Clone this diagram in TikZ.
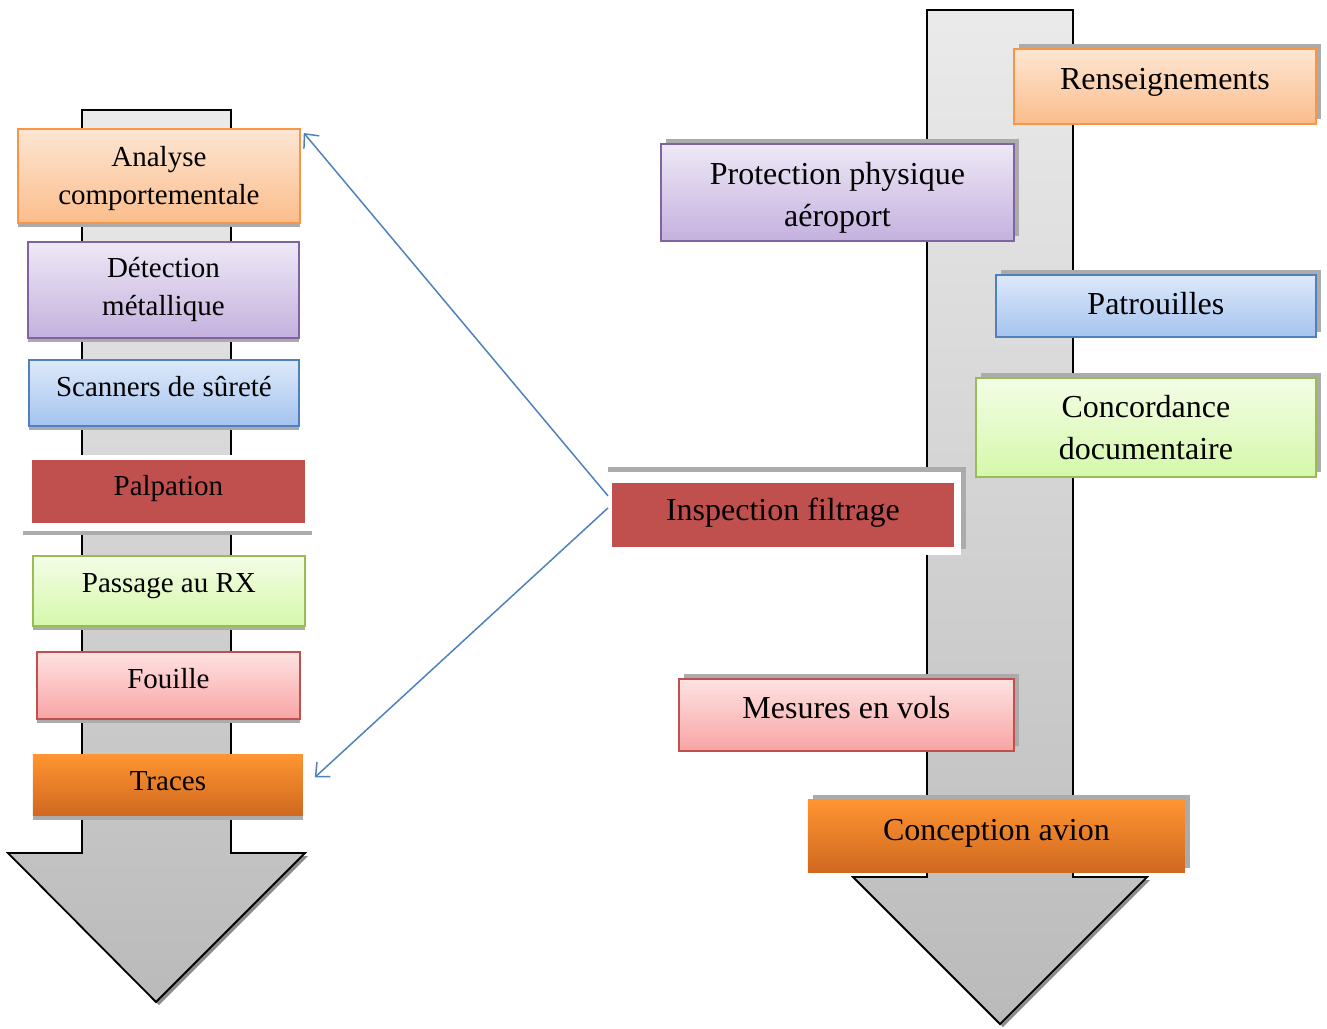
\documentclass[tikz,border=0pt]{standalone}
\usepackage{fontspec}
\setmainfont{Liberation Serif}
\usetikzlibrary{arrows.meta}
\definecolor{oBor}{HTML}{F79646}\definecolor{oTop}{HTML}{FDE6D3}\definecolor{oBot}{HTML}{FBBD8B}
\definecolor{pBor}{HTML}{8064A2}\definecolor{pTop}{HTML}{EEE8F6}\definecolor{pBot}{HTML}{C4B1DE}
\definecolor{bBor}{HTML}{4F81BD}\definecolor{bTop}{HTML}{DDE9FA}\definecolor{bBot}{HTML}{A5C3EF}
\definecolor{gBor}{HTML}{9BBB59}\definecolor{gTop}{HTML}{F3FDE6}\definecolor{gBot}{HTML}{D5F8AA}
\definecolor{kBor}{HTML}{C0504D}\definecolor{kTop}{HTML}{FFE2E2}\definecolor{kBot}{HTML}{F8A4A4}
\definecolor{dTop}{HTML}{FF9431}\definecolor{dBot}{HTML}{CF6820}
\definecolor{red1}{HTML}{C0504D}
\definecolor{conn}{HTML}{4F81BD}
\definecolor{shd}{HTML}{ABABAB}
\tikzset{
  box/.style={anchor=north west, inner sep=0pt, align=center, line width=1.8pt},
  lfont/.style={font=\fontsize{29}{38}\selectfont},
  rfont/.style={font=\fontsize{32}{42}\selectfont},
  llift/.style={text height=20pt, text depth=#1},
  rlift/.style={text height=22pt, text depth=#1},
  lshadow/.style={preaction={draw=none, fill=shd, transform canvas={yshift=-4pt}}},
  rshadow/.style={preaction={draw=none, fill=shd, transform canvas={xshift=5pt,yshift=5pt}}},
  lorange/.style={box, draw=oBor, top color=oTop, bottom color=oBot},
  lpurple/.style={box, draw=pBor, top color=pTop, bottom color=pBot},
  lblue/.style={box, draw=bBor, top color=bTop, bottom color=bBot},
  lgreen/.style={box, draw=gBor, top color=gTop, bottom color=gBot},
  lpink/.style={box, draw=kBor, top color=kTop, bottom color=kBot},
  dorange/.style={box, draw=none, top color=dTop, bottom color=dBot},
  redbox/.style={box, draw=none, fill=red1},
  bigarrow/.style={draw=black, line width=1.8pt, line join=miter, top color=black!8, bottom color=black!27},
  arrowshadow/.style={fill=black!45, draw=none},
  connector/.style={draw=conn, line width=1.5pt, -{Straight Barb[length=11pt,width=20pt,line width=1.5pt]}},
}
\begin{document}
\begin{tikzpicture}[x=1pt,y=-1pt]
\useasboundingbox (0,0) rectangle (1327,1028);
% ---------- big arrows ----------
\fill[arrowshadow] (11,856) -- (159,1005) -- (308,856) -- cycle;
\path[bigarrow] (82,110) -- (231,110) -- (231,853) -- (305,853) -- (156,1002) -- (8,853) -- (82,853) -- cycle;
\fill[arrowshadow] (856,880) -- (1003,1027) -- (1150,880) -- cycle;
\path[bigarrow] (927,10) -- (1073,10) -- (1073,877) -- (1147,877) -- (1000,1024) -- (853,877) -- (927,877) -- cycle;
% ---------- left column ----------
\node[lorange, lshadow, lfont, minimum width=282pt, minimum height=94pt] (analyse) at (17,128) {\rule{0pt}{26pt}Analyse\\comportementale};
\node[lpurple, lshadow, lfont, minimum width=271pt, minimum height=96pt] (detect) at (27,241) {Détection\\métallique};
\node[lblue, lshadow, lfont, llift=13pt, minimum width=270pt, minimum height=66pt] (scan) at (28,359) {Scanners de sûreté};
\fill[shd] (23,531) rectangle (312,535);
\fill[white] (23,455) rectangle (312,531);
\node[redbox, lfont, llift=11.5pt, minimum width=273pt, minimum height=63pt] (palp) at (31,459) {Palpation};
\node[lgreen, lshadow, lfont, llift=17pt, minimum width=272pt, minimum height=70pt] (rx) at (32,555) {Passage au RX};
\node[lpink, lshadow, lfont, llift=13.5pt, minimum width=263pt, minimum height=67pt] (fouille) at (36,651) {Fouille};
\node[dorange, lshadow, lfont, llift=9.5pt, minimum width=270pt, minimum height=61pt] (traces) at (32,754) {Traces};
% ---------- right column ----------
\node[lorange, rshadow, rfont, rlift=15pt, minimum width=302pt, minimum height=75pt] (rens) at (1013,48) {Renseignements};
\node[lpurple, rshadow, rfont, minimum width=353pt, minimum height=97pt] (prot) at (660,143) {\rule{0pt}{33pt}Protection physique\\aéroport};
\node[lblue, rshadow, rfont, rlift=4pt, minimum width=320pt, minimum height=62pt] (patr) at (995,274) {Patrouilles};
\node[lgreen, rshadow, rfont, minimum width=340pt, minimum height=99pt] (conc) at (975,377) {Concordance\\documentaire};
\fill[shd] (608,467) rectangle (966,549);
\fill[white] (608,472) rectangle (961,555);
\node[redbox, rfont, rlift=11pt, minimum width=342pt, minimum height=64pt] (insp) at (611,482) {Inspection filtrage};
\node[lpink, rshadow, rfont, rlift=14pt, minimum width=335pt, minimum height=72pt] (mes) at (678,678) {Mesures en vols};
\node[dorange, rshadow, rfont, rlift=13pt, minimum width=377pt, minimum height=73pt] (conc2) at (807,799) {Conception avion};
% ---------- connectors ----------
\draw[connector] ([xshift=-3pt,yshift=19pt]insp.west) -- ([xshift=3pt,yshift=-5pt]analyse.north east);
\draw[connector] ([xshift=-3pt,yshift=7pt]insp.west) -- ([xshift=11pt,yshift=8pt]traces.east);
\end{tikzpicture}
\end{document}
